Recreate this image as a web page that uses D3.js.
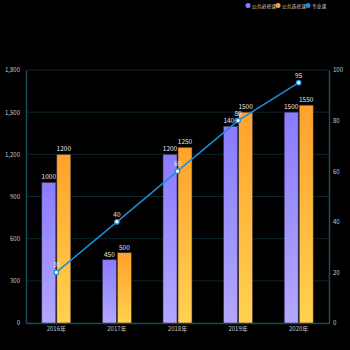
<!DOCTYPE html>
<html><head><meta charset="utf-8">
<script src="https://cdn.jsdelivr.net/npm/d3@7"></script>
<style>body{margin:0;background:#000;}svg{display:block;}</style>
</head><body>
<script>
const categories = ["2016年","2017年","2018年","2019年","2020年"];
const requiredVals = [1000,450,1200,1400,1500];
const electiveVals = [1200,500,1250,1500,1550];
const majorVals = [20,40,60,80,95];
const leftTicks = [0,300,600,900,1200,1500,1800];
const rightTicks = [0,20,40,60,80,100];
const seriesNames = ["公共必修课","公共选修课","专业课"];

const W=350,H=350;
const m={l:26,r:21,t:70,b:27};
const svg=d3.select("body").append("svg").attr("width",W).attr("height",H).style("background","#000");
const font="'Noto Sans CJK SC','Noto Sans',sans-serif";
const defs=svg.append("defs");
function grad(id,top,bot){
  const g=defs.append("linearGradient").attr("id",id).attr("x1",0).attr("y1",0).attr("x2",0).attr("y2",1);
  g.append("stop").attr("offset","0%").attr("stop-color",top);
  g.append("stop").attr("offset","100%").attr("stop-color",bot);
}
grad("gp","#8a7bff","#b2a8ff");
grad("go","#ffa22c","#ffd24f");

const x=d3.scaleBand().domain(categories).range([m.l,W-m.r]);
const y=d3.scaleLinear().domain([0,1800]).range([H-m.b,m.t]);
const y2=d3.scaleLinear().domain([0,100]).range([H-m.b,m.t]);

// grid
svg.append("g").selectAll("line").data(leftTicks.slice(1)).join("line")
  .attr("x1",m.l).attr("x2",W-m.r).attr("y1",d=>y(d)).attr("y2",d=>y(d))
  .attr("stroke","#0d2530").attr("stroke-width",1);

// axes
const axL=svg.append("g").attr("transform",`translate(${m.l},0)`)
  .call(d3.axisLeft(y).tickValues(leftTicks).tickFormat(d3.format(",")).tickSize(0).tickPadding(6));
const axR=svg.append("g").attr("transform",`translate(${W-m.r},0)`)
  .call(d3.axisRight(y2).tickValues(rightTicks).tickSize(0).tickPadding(4));
const axB=svg.append("g").attr("transform",`translate(0,${H-m.b})`)
  .call(d3.axisBottom(x).tickSize(0).tickPadding(4));
[axL,axR,axB].forEach(a=>{
  a.select(".domain").attr("stroke","#1d4a5c").attr("stroke-width",1.5);
  a.selectAll("text").attr("fill","#c8c8c8").style("font-family",font).style("font-size","6px");
});

const bw=14;
const bars=[{vals:requiredVals,fill:"url(#gp)",off:-bw-0.5},{vals:electiveVals,fill:"url(#go)",off:0.5}];
bars.forEach(s=>{
  const g=svg.append("g");
  g.selectAll("rect").data(categories).join("rect")
    .attr("x",c=>x(c)+x.bandwidth()/2+s.off).attr("width",bw)
    .attr("y",(c,i)=>y(s.vals[i])).attr("height",(c,i)=>y(0)-y(s.vals[i]))
    .attr("fill",s.fill).attr("stroke","#3a3040").attr("stroke-width",0.6);
  g.selectAll("text").data(categories).join("text")
    .attr("x",c=>x(c)+x.bandwidth()/2+s.off+bw/2).attr("y",(c,i)=>y(s.vals[i])-3)
    .attr("text-anchor","middle").attr("fill","#e8e8e8").style("font-family",font).style("font-size","6.5px")
    .text((c,i)=>s.vals[i]);
});

// line
const cx=c=>x(c)+x.bandwidth()/2;
svg.append("path").datum(categories)
  .attr("d",d3.line().x(c=>cx(c)).y((c,i)=>y2(majorVals[i])))
  .attr("fill","none").attr("stroke","#1a8fd6").attr("stroke-width",1.5);
svg.append("g").selectAll("circle").data(categories).join("circle")
  .attr("cx",cx).attr("cy",(c,i)=>y2(majorVals[i])).attr("r",2.3)
  .attr("fill","#fff").attr("stroke","#1a8fd6").attr("stroke-width",1.2);
svg.append("g").selectAll("text").data(categories).join("text")
  .attr("x",cx).attr("y",(c,i)=>y2(majorVals[i])-5)
  .attr("text-anchor","middle").attr("fill","#e8e8e8").style("font-family",font).style("font-size","6.5px")
  .text((c,i)=>majorVals[i]);

// legend
const legColors=["#8a7bff","#ffa22c","#1a8fd6"];
const legX=[248,278,308];
const lg=svg.append("g");
seriesNames.forEach((n,i)=>{
  lg.append("circle").attr("cx",legX[i]).attr("cy",5.5).attr("r",2.5).attr("fill",legColors[i]);
  lg.append("text").attr("x",legX[i]+4).attr("y",7.5).attr("fill","#d0d0d0")
    .style("font-family",font).style("font-size","4.8px").text(n);
});
</script>
</body></html>
